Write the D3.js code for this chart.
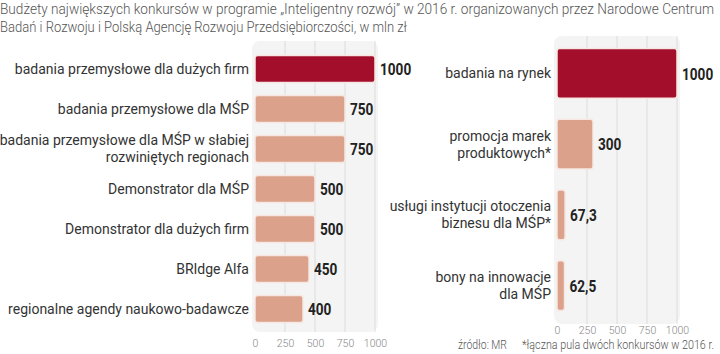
<!DOCTYPE html>
<html>
<head>
<meta charset="utf-8">
<script src="https://cdn.jsdelivr.net/npm/d3@7"></script>
<style>
  body { margin: 0; background: #fff; }
  svg { display: block; }
</style>
</head>
<body>
<div id="chart"></div>
<script>
'use strict';

// data
var titleLines = [
  'Budżety największych konkursów w programie \u201eInteligentny rozwój\u201d w 2016 r. organizowanych przez Narodowe Centrum',
  'Badań i Rozwoju i Polską Agencję Rozwoju Przedsiębiorczości, w mln zł'
];
var titleWidths = [714, 407];
var leftLabels = [
  ['badania przemysłowe dla dużych firm'],
  ['badania przemysłowe dla MŚP'],
  ['badania przemysłowe dla MŚP w słabiej', 'rozwiniętych regionach'],
  ['Demonstrator dla MŚP'],
  ['Demonstrator dla dużych firm'],
  ['BRIdge Alfa'],
  ['regionalne agendy naukowo-badawcze']
];
var leftValues = [1000, 750, 750, 500, 500, 450, 400];
var leftText = ['1000', '750', '750', '500', '500', '450', '400'];

var rightLabels = [
  ['badania na rynek'],
  ['promocja marek', 'produktowych*'],
  ['usługi instytucji otoczenia', 'biznesu dla MŚP*'],
  ['bony na innowacje', 'dla MŚP']
];
var rightValues = [1000, 300, 67.3, 62.5];
var rightText = ['1000', '300', '67,3', '62,5'];

var ticks = [0, 250, 500, 750, 1000];
var sourceText = 'źródło: MR';
var noteText = '*łączna pula dwóch konkursów w 2016 r.';

var width = 720, height = 354;
var darkRed = '#a30f2b';
var salmon = '#dba18b';
var labelFont = 'Roboto, "Noto Sans", sans-serif';

var svg = d3.select('#chart').append('svg')
  .attr('width', width)
  .attr('height', height);

// title (condensed look via textLength)
svg.selectAll('.title')
    .data(titleLines)
  .enter().append('text')
    .attr('class', 'title')
    .attr('x', 0)
    .attr('y', function(d, i){ return 14 + i * 18; })
    .attr('font-family', labelFont)
    .attr('font-weight', 300)
    .attr('font-size', 14)
    .attr('fill', '#555')
    .attr('textLength', function(d, i){ return titleWidths[i]; })
    .attr('lengthAdjust', 'spacingAndGlyphs')
    .text(function(d){ return d; });

function drawPanel(cfg){
  var x = d3.scaleLinear()
    .domain([0, 1000])
    .range([cfg.x0, cfg.x0 + 120]);

  var y = d3.scaleBand()
    .domain(d3.range(cfg.values.length))
    .range([cfg.top, cfg.bottom])
    .paddingInner(cfg.pad)
    .paddingOuter(cfg.pad / 2);

  var g = svg.append('g');

  // background panel
  g.append('rect')
    .attr('x', cfg.x0 - 3)
    .attr('y', cfg.panelTop)
    .attr('width', 126)
    .attr('height', cfg.bottom - cfg.panelTop + 3)
    .attr('rx', 8)
    .attr('fill', '#f4f4f4');

  // grid
  g.selectAll('.grid')
      .data(ticks.slice(1))
    .enter().append('line')
      .attr('x1', x).attr('x2', x)
      .attr('y1', cfg.panelTop)
      .attr('y2', cfg.bottom + 3)
      .attr('stroke', '#dcdcdc')
      .attr('stroke-width', 1);

  // axis
  var axis = g.append('g')
    .attr('transform', 'translate(0,' + (cfg.bottom + 3) + ')')
    .call(d3.axisBottom(x).tickValues(ticks).tickFormat(d3.format('d'))
      .tickSize(0).tickPadding(cfg.tickPad));
  axis.select('.domain').remove();
  axis.selectAll('text')
    .attr('font-family', labelFont)
    .attr('font-weight', 300)
    .attr('font-size', 10.5)
    .attr('fill', '#888');

  // bars
  g.selectAll('.bar')
      .data(cfg.values)
    .enter().append('rect')
      .attr('class', 'bar')
      .attr('x', x(0))
      .attr('y', function(d, i){ return y(i); })
      .attr('width', function(d){ return x(d) - x(0); })
      .attr('height', y.bandwidth())
      .attr('rx', 2.5)
      .attr('fill', function(d, i){ return i === 0 ? darkRed : salmon; })
      .attr('stroke', '#f6e7e2')
      .attr('stroke-width', 1.5);

  // value labels, squeezed horizontally
  g.selectAll('.val')
      .data(cfg.values)
    .enter().append('text')
      .attr('transform', function(d, i){
        return 'translate(' + (x(d) + 5) + ',' + (y(i) + y.bandwidth() / 2) + ') scale(0.8,1)';
      })
      .attr('dy', '0.36em')
      .attr('font-family', labelFont)
      .attr('font-weight', 'bold')
      .attr('font-size', 17)
      .attr('fill', '#222')
      .text(function(d, i){ return cfg.text[i]; });

  // category labels
  var lab = g.selectAll('.lab')
      .data(cfg.labels)
    .enter().append('text')
      .attr('text-anchor', 'end')
      .attr('font-family', labelFont)
      .attr('font-size', 14)
      .attr('fill', '#333');
  lab.each(function(lines, i){
    var t = d3.select(this);
    var cy = y(i) + y.bandwidth() / 2;
    var lh = 17;
    lines.forEach(function(line, j){
      t.append('tspan')
        .attr('x', cfg.x0 - 6)
        .attr('y', cy + (j - (lines.length - 1) / 2) * lh)
        .attr('dy', '0.35em')
        .text(line);
    });
  });
}

drawPanel({
  x0: 255, top: 49, bottom: 329, panelTop: 41, pad: 0.32, tickPad: 8,
  values: leftValues, text: leftText, labels: leftLabels
});

drawPanel({
  x0: 557, top: 38, bottom: 321, panelTop: 36, pad: 0.3, tickPad: 3,
  values: rightValues, text: rightText, labels: rightLabels
});

// footer
svg.append('text')
  .attr('x', 458).attr('y', 349)
  .attr('font-family', labelFont)
  .attr('font-weight', 300)
  .attr('font-size', 12)
  .attr('fill', '#555')
  .attr('textLength', 49)
  .attr('lengthAdjust', 'spacingAndGlyphs')
  .text(sourceText);
svg.append('text')
  .attr('x', 522).attr('y', 349)
  .attr('font-family', labelFont)
  .attr('font-weight', 300)
  .attr('font-size', 12)
  .attr('fill', '#555')
  .attr('textLength', 192)
  .attr('lengthAdjust', 'spacingAndGlyphs')
  .text(noteText);
</script>
</body>
</html>
